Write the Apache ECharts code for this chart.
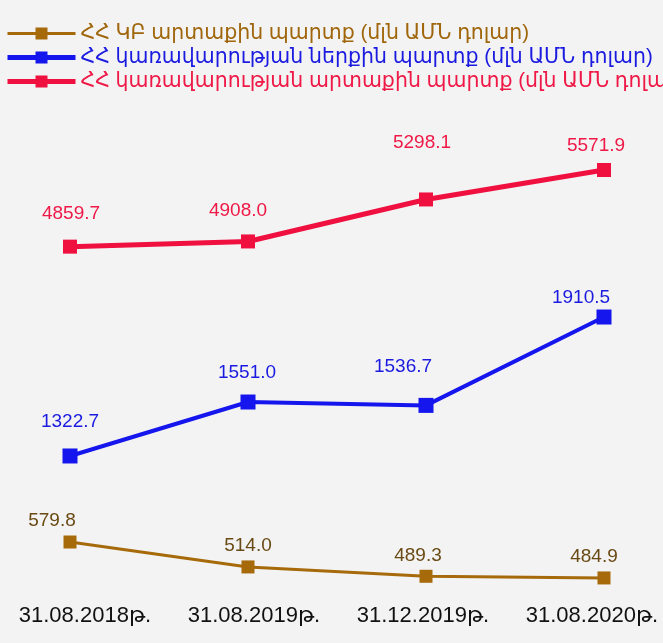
<!DOCTYPE html>
<html><head><meta charset="utf-8">
<script src="https://cdn.jsdelivr.net/npm/echarts@6/dist/echarts.min.js"></script>
<style>html,body{margin:0;padding:0;background:#f3f3f3}#c{width:663px;height:643px}</style>
</head><body><div id="c"></div>
<script>
const categories = ['31.08.2018թ.', '31.08.2019թ.', '31.12.2019թ.', '31.08.2020թ.'];
const seriesNames = [
  'ՀՀ ԿԲ արտաքին պարտք (մլն ԱՄՆ դոլար)',
  'ՀՀ կառավարության ներքին պարտք (մլն ԱՄՆ դոլար)',
  'ՀՀ կառավարության արտաքին պարտք (մլն ԱՄՆ դոլար)'
];
const cbExternal = [579.8, 514.0, 489.3, 484.9];
const govDomestic = [1322.7, 1551.0, 1536.7, 1910.5];
const govExternal = [4859.7, 4908.0, 5298.1, 5571.9];

// presentation: per-point label nudges [dx, dy]
const nudgeCb = [[-18,0],[0,0],[-8,0],[-10,0]];
const nudgeDom = [[0,-3],[-1,2],[-23,-8],[-23,12]];
const nudgeExt = [[1,0],[-10,2],[-4,-24],[-8,8]];

const font = '"Liberation Sans", "DejaVu Sans", Arial, sans-serif';
function mk(vals, nudges){
  return vals.map((v,i)=>({value:v, label:{offset:nudges[i]}}));
}
const chart = echarts.init(document.getElementById('c'));
chart.setOption({
  backgroundColor:'#f3f3f3',
  animation:false,
  legend:{
    orient:'vertical', left:0, top:18, itemWidth:68, itemHeight:15, itemGap:3,
    textStyle:{fontSize:20.5, fontFamily:font},
    data:[
      {name:seriesNames[0], textStyle:{color:'#a0660c'}, lineStyle:{width:3}},
      {name:seriesNames[1], textStyle:{color:'#1a1ae0'}, lineStyle:{width:5}},
      {name:seriesNames[2], textStyle:{color:'#ef1846'}, lineStyle:{width:5}}
    ]
  },
  grid:[
    {left:70, right:59, top:100, height:500},
    {left:85, right:71, top:600, height:1}
  ],
  xAxis:[
    {gridIndex:0, type:'category', data:categories, boundaryGap:false, show:false},
    {gridIndex:1, type:'category', data:categories, boundaryGap:false,
     axisLine:{show:false}, axisTick:{show:false},
     axisLabel:{color:'#111', fontSize:22, fontFamily:font, margin:4, interval:0}}
  ],
  yAxis:[
    {gridIndex:0, type:'value', min:426.7, max:1746.7, show:false},
    {gridIndex:0, type:'value', min:713.5, max:2828.5, show:false},
    {gridIndex:0, type:'value', min:1577, max:6222, show:false},
    {gridIndex:1, type:'value', show:false}
  ],
  series:[
    {name:seriesNames[0], type:'line', xAxisIndex:0, yAxisIndex:0, data:mk(cbExternal,nudgeCb),
     symbol:'rect', symbolSize:13, lineStyle:{width:3, color:'#a66a0a'}, itemStyle:{color:'#a66a0a'},
     label:{show:true, position:'top', distance:5, color:'#6a4a14', fontSize:19, fontFamily:font, formatter:p=>p.value.toFixed(1)}},
    {name:seriesNames[1], type:'line', xAxisIndex:0, yAxisIndex:1, data:mk(govDomestic,nudgeDom),
     symbol:'rect', symbolSize:15, lineStyle:{width:4, color:'#1515ee'}, itemStyle:{color:'#1515ee'},
     label:{show:true, position:'top', distance:14, color:'#1a1ae0', fontSize:19, fontFamily:font, formatter:p=>p.value.toFixed(1)}},
    {name:seriesNames[2], type:'line', xAxisIndex:0, yAxisIndex:2, data:mk(govExternal,nudgeExt),
     symbol:'rect', symbolSize:14, lineStyle:{width:5, color:'#ef1040'}, itemStyle:{color:'#ef1040'},
     label:{show:true, position:'top', distance:16, color:'#ef1846', fontSize:19, fontFamily:font, formatter:p=>p.value.toFixed(1)}}
  ]
});
</script></body></html>
